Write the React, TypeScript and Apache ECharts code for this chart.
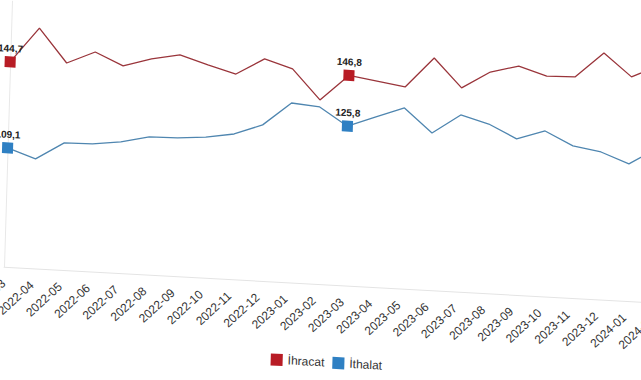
import React, { useEffect, useRef } from 'react';
import * as echarts from 'echarts';

const categories = [
  '2022-03', '2022-04', '2022-05', '2022-06', '2022-07', '2022-08', '2022-09', '2022-10',
  '2022-11', '2022-12', '2023-01', '2023-02', '2023-03', '2023-04', '2023-05', '2023-06',
  '2023-07', '2023-08', '2023-09', '2023-10', '2023-11', '2023-12', '2024-01', '2024-02',
];
const exportValues = [
  144.7, 159.3, 145.5, 150.7, 145.6, 149.1, 151.4, 147.9, 144.8, 151.7, 148.2, 136.0,
  146.8, 145.1, 143.3, 155.9, 144.2, 151.4, 154.5, 151.0, 151.3, 161.8, 152.6, 158.0,
];
const importValues = [
  109.1, 105.2, 112.5, 112.7, 114.2, 116.9, 117.1, 118.1, 120.0, 124.4, 134.1, 133.1,
  125.8, 130.3, 134.6, 124.9, 133.0, 129.9, 124.4, 128.3, 122.8, 120.9, 116.6, 123.8,
];
const seriesNames = ['İhracat', 'İthalat'];
const markedIndices = [0, 12];

const RED = '#b81c25';
const RED_LINE = '#9a353b';
const BLUE = '#2f80c3';
const BLUE_LINE = '#4f86b0';
const FONT = '"Liberation Sans", Arial, sans-serif';

export default function App() {
  const ref = useRef<HTMLDivElement>(null);
  useEffect(() => {
    if (!ref.current) return;
    const chart = echarts.init(ref.current, null, { renderer: 'svg' });
    const build = (vals: number[], color: string) =>
      vals.map((v, i) =>
        markedIndices.includes(i)
          ? {
              value: v,
              symbol: 'rect',
              symbolSize: 11,
              itemStyle: { color },
              label: {
                show: true,
                position: 'top',
                distance: 3,
                color: '#222',
                fontSize: 10,
                fontWeight: 'bold',
                fontFamily: FONT,
                formatter: (p: any) => Number(p.value).toFixed(1).replace('.', ','),
              },
            }
          : { value: v, symbol: 'none' }
      );
    chart.setOption({
      animation: false,
      textStyle: { fontFamily: FONT },
      grid: {
        left: 12,
        right: 19,
        top: 0,
        bottom: 114,
        containLabel: false,
        outerBoundsMode: 'none',
      },
      legend: {
        left: 276,
        top: 333,
        icon: 'rect',
        itemWidth: 12,
        itemHeight: 12,
        itemGap: 8,
        textStyle: { color: '#333', fontSize: 12, fontFamily: FONT },
        data: seriesNames,
      },
      xAxis: {
        type: 'category',
        data: categories,
        boundaryGap: false,
        axisLine: { show: true, lineStyle: { color: '#e4e4e4', width: 1 } },
        axisTick: { show: false },
        axisLabel: {
          interval: 0,
          rotate: 45,
          color: '#333',
          fontSize: 12,
          fontFamily: FONT,
          margin: 15,
        },
      },
      yAxis: {
        type: 'value',
        min: 60,
        max: 170,
        interval: 10,
        axisLine: { show: true, lineStyle: { color: '#e8e8e8', width: 1 } },
        axisTick: { show: false },
        axisLabel: { show: false },
        splitLine: { show: false },
      },
      series: [
        {
          name: seriesNames[0],
          type: 'line',
          showSymbol: true,
          showAllSymbol: true,
          itemStyle: { color: RED },
          lineStyle: { color: RED_LINE, width: 1.3 },
          data: build(exportValues, RED),
        },
        {
          name: seriesNames[1],
          type: 'line',
          showSymbol: true,
          showAllSymbol: true,
          itemStyle: { color: BLUE },
          lineStyle: { color: BLUE_LINE, width: 1.3 },
          data: build(importValues, BLUE),
        },
      ],
    });
    return () => chart.dispose();
  }, []);

  return (
    <div
      style={{
        position: 'fixed',
        left: 0,
        top: 0,
        width: 641,
        height: 380,
        overflow: 'hidden',
        background: '#fff',
      }}
    >
      <div
        ref={ref}
        style={{
          width: 680,
          height: 380,
          transform: 'matrix(1, 0.055, -0.03, 1, 0, 0)',
          transformOrigin: '0 0',
        }}
      />
    </div>
  );
}
